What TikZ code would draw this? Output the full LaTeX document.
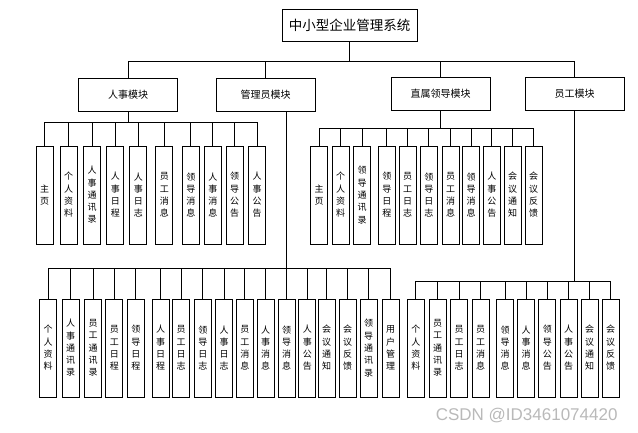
\documentclass[tikz,border=0pt]{standalone}
\usepackage{fontspec}
\setmainfont{Noto Sans CJK SC}
\newfontfamily\markfont{Liberation Sans}
\tikzset{
  rootbox/.style={draw, line width=0.8pt, minimum width=135pt, minimum height=32pt, inner sep=0pt, font=\fontsize{13.5}{16}\selectfont},
  modbox/.style={draw, line width=0.8pt, minimum width=99pt, minimum height=33pt, inner sep=0pt, font=\fontsize{10}{12}\selectfont},
  leafbox/.style={draw, line width=0.8pt, minimum width=17pt, minimum height=98pt, inner sep=0pt, align=center, font=\fontsize{9}{12.3}\selectfont},
  wire/.style={line width=0.7pt}
}
\begin{document}
\begin{tikzpicture}[x=1pt, y=-1pt]
    \useasboundingbox (0,0) rectangle (638,433);
    % Корень
    \node[rootbox] (root) at (349.5,25) {中小型企业管理系统};

    % Модули
    \node[modbox] (hr) at (128,95) {人事模块};
    \node[modbox] (ad) at (265.5,94.5) {管理员模块};
    \node[modbox] (ld) at (440.5,94) {直属领导模块};
    \node[modbox] (em) at (574.5,94) {员工模块};
    \foreach \m in {hr,ad,ld,em}
        \draw[wire] (root.south) -- ++(0,20) -| (\m.north);

    % 人事模块
    \foreach \x/\t [count=\i] in {44.5/主\\页, 68.7/个\\人\\资\\料, 92/人\\事\\通\\讯\\录,
        115.3/人\\事\\日\\程, 138.3/人\\事\\日\\志, 164.3/员\\工\\消\\息, 190.8/领\\导\\消\\息,
        212.8/人\\事\\消\\息, 234.7/领\\导\\公\\告, 257/人\\事\\公\\告} {
        \node[leafbox] (hr\i) at (\x,195) {\t};
        \draw[wire] (hr.south) -- ++(0,10) -| (hr\i.north);
    }

    % 直属领导模块
    \foreach \x/\t [count=\i] in {319/主\\页, 340.5/个\\人\\资\\料, 362.2/领\\导\\通\\讯\\录,
        386.8/领\\导\\日\\程, 407.5/员\\工\\日\\志, 428.8/领\\导\\日\\志, 450.5/员\\工\\消\\息,
        471.2/领\\导\\消\\息, 491.8/人\\事\\公\\告, 512.7/会\\议\\通\\知, 533.7/会\\议\\反\\馈} {
        \node[leafbox] (ld\i) at (\x,195) {\t};
        \draw[wire] (ld.south) -- ++(0,17.5) -| (ld\i.north);
    }

    % 管理员模块
    \foreach \x/\t [count=\i] in {48/个\\人\\资\\料, 70.5/人\\事\\通\\讯\\录, 93/员\\工\\通\\讯\\录,
        114.3/员\\工\\日\\程, 135.8/领\\导\\日\\程, 160.5/人\\事\\日\\程, 181.2/员\\工\\日\\志,
        202.8/领\\导\\日\\志, 224/人\\事\\日\\志, 244.8/员\\工\\消\\息, 265.5/人\\事\\消\\息,
        286.5/领\\导\\消\\息, 307.3/人\\事\\公\\告, 326.5/会\\议\\通\\知, 347.5/会\\议\\反\\馈,
        368.5/领\\导\\通\\讯\\录, 390.5/用\\户\\管\\理} {
        \node[leafbox] (ad\i) at (\x,348) {\t};
        \draw[wire] ([xshift=21pt]ad.south) -- ++(0,157) -| (ad\i.north);
    }

    % 员工模块
    \foreach \x/\t [count=\i] in {415.8/个\\人\\资\\料, 437.5/员\\工\\通\\讯\\录, 459/员\\工\\日\\志,
        480.7/员\\工\\消\\息, 505.2/领\\导\\消\\息, 526/人\\事\\消\\息, 547.3/领\\导\\公\\告,
        568.5/人\\事\\公\\告, 589.7/会\\议\\通\\知, 610.5/会\\议\\反\\馈} {
        \node[leafbox] (em\i) at (\x,348) {\t};
        \draw[wire] (em.south) -- ++(0,170.5) -| (em\i.north);
    }

    \node[text=gray!55, font=\markfont\fontsize{17}{20}\selectfont] (mark) at (526.7,415.7) {CSDN @ID3461074420};
\end{tikzpicture}
\end{document}
